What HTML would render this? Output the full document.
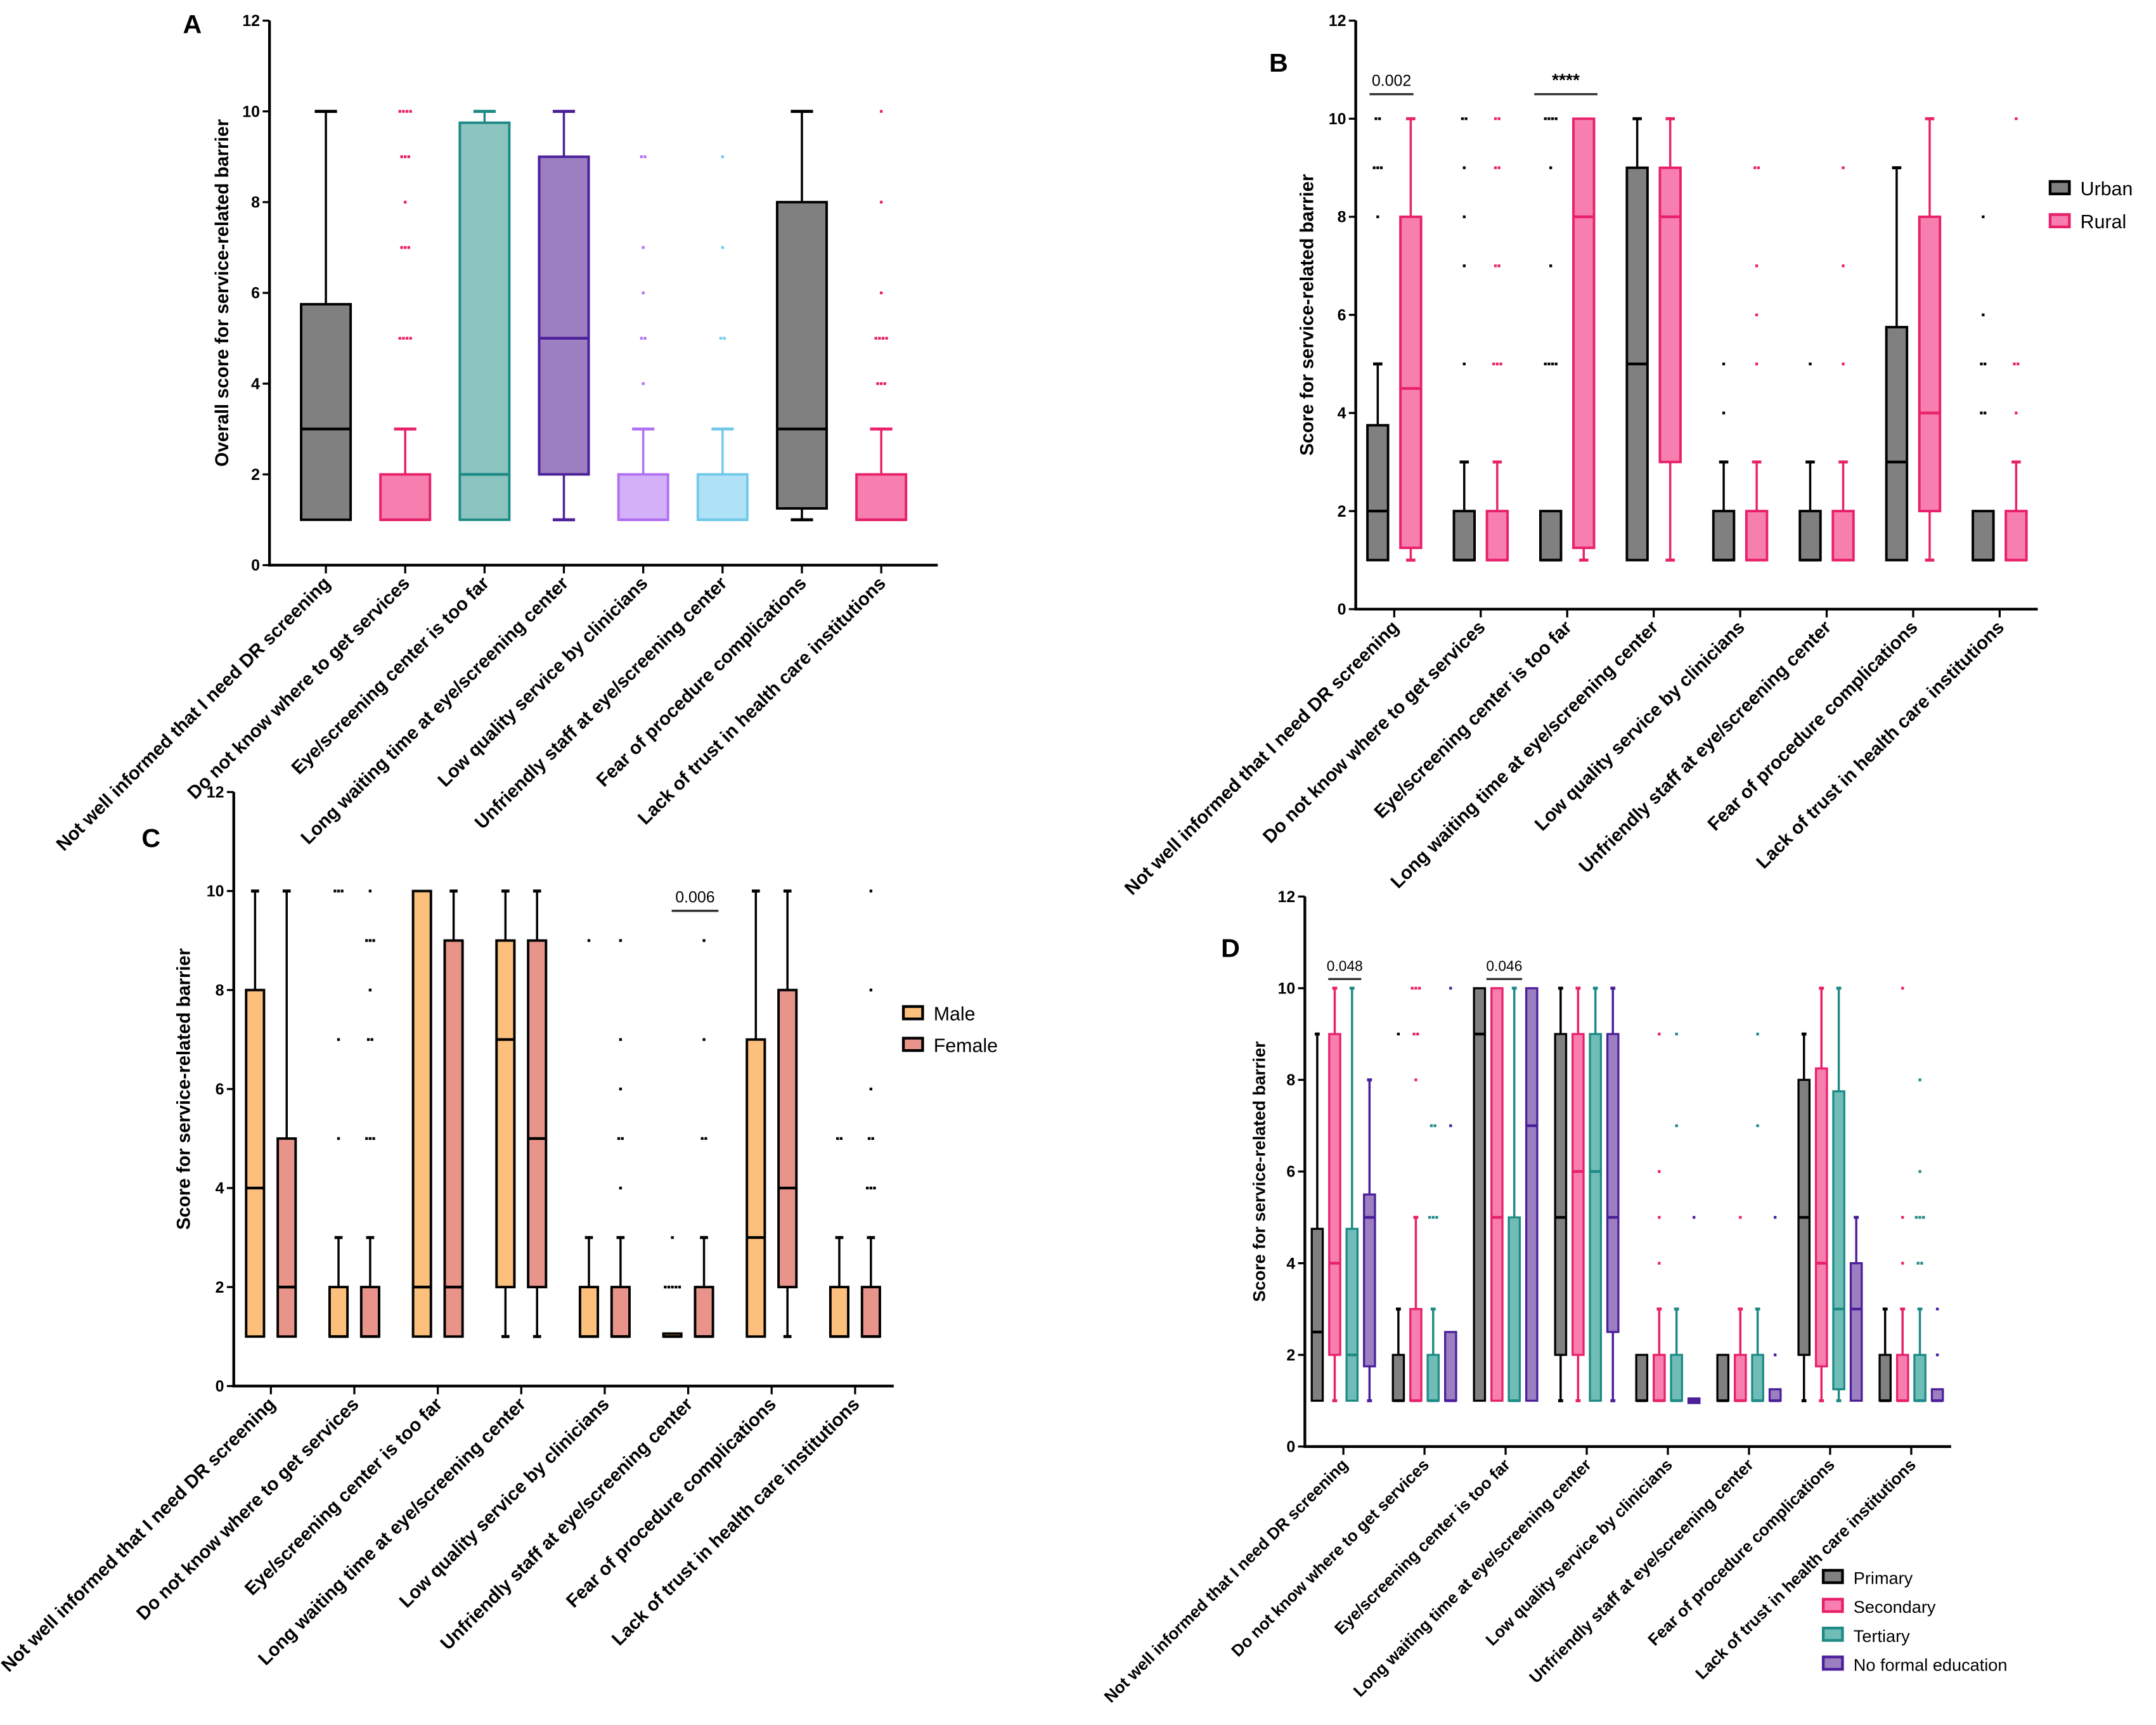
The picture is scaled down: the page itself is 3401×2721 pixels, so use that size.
<!DOCTYPE html>
<html><head><meta charset="utf-8"><style>
html,body{margin:0;padding:0;background:#fff}
svg{display:block}
text{font-family:"Liberation Sans",Arial,sans-serif}
</style></head><body>
<svg id="fig" xmlns="http://www.w3.org/2000/svg" width="3401" height="2721" viewBox="0 0 1568 1254.5">
<rect width="1568" height="1254.5" fill="#fff"/>
</svg>
<script>
const categories = ["Not well informed that I need DR screening","Do not know where to get services","Eye/screening center is too far","Long waiting time at eye/screening center","Low quality service by clinicians","Unfriendly staff at eye/screening center","Fear of procedure complications","Lack of trust in health care institutions"];
const yTicks = [0,2,4,6,8,10,12];
// Panel A: [min,q1,median,q3,max]
const aStats = [[1,1,3,5.75,10],[1,1,1,2,3],[1,1,2,9.75,10],[1,2,5,9,10],[1,1,1,2,3],[1,1,1,2,3],[1,1.25,3,8,10],[1,1,1,2,3]];
const aOut = [[],[10,10,10,10,9,9,9,8,7,7,7,5,5,5,5],[],[],[9,9,7,6,5,5,4],[9,7,5,5],[],[10,8,6,5,5,5,5,4,4,4]];
// Panel B
const bUrban = [[1,1,2,3.75,5],[1,1,1,2,3],[1,1,1,2,2],[1,1,5,9,10],[1,1,1,2,3],[1,1,1,2,3],[1,1,3,5.75,9],[1,1,1,2,2]];
const bUrbanOut = [[10,10,9,9,9,8],[10,10,9,8,7,5],[10,10,10,10,9,7,5,5,5,5],[],[5,4],[5],[],[8,6,5,5,4,4]];
const bRural = [[1,1.25,4.5,8,10],[1,1,1,2,3],[1,1.25,8,10,10],[1,3,8,9,10],[1,1,1,2,3],[1,1,1,2,3],[1,2,4,8,10],[1,1,1,2,3]];
const bRuralOut = [[],[10,10,9,9,7,7,5,5,5],[],[],[9,9,7,6,5],[9,7,5],[],[10,5,5,4]];
// Panel C
const cMale = [[1,1,4,8,10],[1,1,1,2,3],[1,1,2,10,10],[1,2,7,9,10],[1,1,1,2,3],[1,1,1,1.06,1.06],[1,1,3,7,10],[1,1,1,2,3]];
const cMaleOut = [[],[10,10,10,7,5],[],[],[9],[3,2,2,2,2,2],[],[5,5]];
const cFemale = [[1,1,2,5,10],[1,1,1,2,3],[1,1,2,9,10],[1,2,5,9,10],[1,1,1,2,3],[1,1,1,2,3],[1,2,4,8,10],[1,1,1,2,3]];
const cFemaleOut = [[],[10,9,9,9,8,7,7,5,5,5],[],[],[9,7,6,5,5,4],[9,7,5,5],[],[10,8,6,5,5,4,4,4]];
// Panel D
const dPrimary = [[1,1,2.5,4.75,9],[1,1,1,2,3],[1,1,9,10,10],[1,2,5,9,10],[1,1,1,2,2],[1,1,1,2,2],[1,2,5,8,9],[1,1,1,2,3]];
const dPrimaryOut = [[],[9],[],[],[],[],[],[]];
const dSecondary = [[1,2,4,9,10],[1,1,1,3,5],[1,1,5,10,10],[1,2,6,9,10],[1,1,1,2,3],[1,1,1,2,3],[1,1.75,4,8.25,10],[1,1,1,2,3]];
const dSecondaryOut = [[],[10,10,10,9,9,8],[],[],[9,6,5,4],[5],[],[10,5,4]];
const dTertiary = [[1,1,2,4.75,10],[1,1,1,2,3],[1,1,1,5,10],[1,1,6,9,10],[1,1,1,2,3],[1,1,1,2,3],[1,1.25,3,7.75,10],[1,1,1,2,3]];
const dTertiaryOut = [[],[7,7,5,5,5],[],[],[9,7],[9,7],[],[8,6,5,5,5,4,4]];
const dNone = [[1,1.75,5,5.5,8],[1,1,1,2.5,2.5],[1,1,7,10,10],[1,2.5,5,9,10],[0.95,0.95,1,1.05,1.05],[1,1,1,1.25,1.25],[1,1,3,4,5],[1,1,1,1.25,1.25]];
const dNoneOut = [[],[10,7],[],[],[5],[5,2],[],[3,2]];

const NS = "http://www.w3.org/2000/svg";
const svg = document.getElementById("fig");
function el(tag, attrs, parent, text){
  const e = document.createElementNS(NS, tag);
  for (const k in attrs) e.setAttribute(k, attrs[k]);
  if (text !== undefined) e.textContent = text;
  (parent || svg).appendChild(e);
  return e;
}

function panel(cfg){
  const g = el("g", {});
  
  
  const y = v => cfg.y0 - (cfg.y0 - cfg.y12) * v / 12;
  const cx = i => cfg.c0 + i * cfg.step;
  const ya = el("line", {x1:cfg.ax, y1:y(12), x2:cfg.ax, y2:y(0)+1, stroke:"#000","stroke-width":2}, g);
  
  
  const xa = el("line", {x1:cfg.ax-1, y1:y(0), x2:cfg.axEnd, y2:y(0), stroke:"#000","stroke-width":2}, g);
  
  
  yTicks.forEach(t => {
    el("line", {x1:cfg.ax-5, y1:y(t), x2:cfg.ax, y2:y(t), stroke:"#000","stroke-width":1.5}, g);
    const tl = el("text", {x:cfg.ax-7, y:y(t)+4, "text-anchor":"end","font-size":11.5,"font-weight":"bold"}, g, String(t));
    
    
  });
  categories.forEach((c, i) => {
    const x = cx(i);
    el("line", {x1:x, y1:y(0), x2:x, y2:y(0)+6, stroke:"#000","stroke-width":1.5}, g);
    const lx = x + 4, ly = y(0) + 14;
    const t = el("text", {x:lx, y:ly, "text-anchor":"end","font-size":cfg.fs,"font-weight":"bold", transform:`rotate(-45 ${lx} ${ly})`}, g, c);
    
    
  });
  const yt = el("text", {x:cfg.titleX, y:(y(0)+y(12))/2, "text-anchor":"middle","font-size":cfg.tfs,"font-weight":"bold", transform:`rotate(-90 ${cfg.titleX} ${(y(0)+y(12))/2})`}, g, cfg.ytitle);
  
  
  const pl = el("text", {x:cfg.label[0], y:cfg.label[1], "font-size":19,"font-weight":"bold"}, g, cfg.letter);
  
  
  cfg.series.forEach((s, si) => {
    s.stats.forEach((st, i) => {
      const sty = s.styles ? s.styles[i] : s;
      const x = cx(i) + cfg.offsets[si];
      const bw = cfg.bw, cap = bw * 0.45;
      const [mn, q1, md, q3, mx] = st;
      const bg = el("g", {}, g);
      
      
      if (mx > q3) {
        el("line", {x1:x, y1:y(q3), x2:x, y2:y(mx), stroke:sty.stroke,"stroke-width":1.6}, bg);
        el("line", {x1:x-cap/2, y1:y(mx), x2:x+cap/2, y2:y(mx), stroke:sty.stroke,"stroke-width":2.2}, bg);
      }
      if (mn < q1) {
        el("line", {x1:x, y1:y(q1), x2:x, y2:y(mn), stroke:sty.stroke,"stroke-width":1.6}, bg);
        el("line", {x1:x-cap/2, y1:y(mn), x2:x+cap/2, y2:y(mn), stroke:sty.stroke,"stroke-width":2.2}, bg);
      }
      el("rect", {x:x-bw/2, y:y(q3), width:bw, height:Math.max(y(q1)-y(q3),1), fill:sty.fill, stroke:sty.stroke,"stroke-width":cfg.sw}, bg);
      el("line", {x1:x-bw/2, y1:y(md), x2:x+bw/2, y2:y(md), stroke:sty.stroke,"stroke-width":2}, bg);
      const outs = s.out[i];
      const counts = {};
      outs.forEach(v => counts[v] = (counts[v]||0)+1);
      Object.keys(counts).forEach(k => {
        const n = counts[k];
        for (let j = 0; j < n; j++) {
          const d = el("rect", {x:x + (j-(n-1)/2)*2.6 - 1, y:y(+k)-1, width:2, height:2, fill:sty.stroke}, bg);
          
          
        }
      });
    });
  });
  (cfg.sig||[]).forEach(sg => {
    const sgG = el("g", {}, g);
    
    
    const x1 = cx(sg.i) + sg.a, x2 = cx(sg.i) + sg.b;
    el("line", {x1, y1:y(sg.v), x2, y2:y(sg.v), stroke:"#333","stroke-width":1.6}, sgG);
    el("text", {x:(x1+x2)/2, y:y(sg.v)-6, "text-anchor":"middle","font-size":sg.fs||11.5,"font-weight":sg.bold?"bold":"normal"}, sgG, sg.t);
  });
  (cfg.legend||[]).forEach((lg, k) => {
    const lG = el("g", {}, g);
    
    
    const ly = cfg.legendY + k * cfg.legendStep;
    el("rect", {x:cfg.legendX, y:ly-5, width:14, height:9, fill:lg.fill, stroke:lg.stroke,"stroke-width":2}, lG);
    el("text", {x:cfg.legendX+22, y:ly+5, "font-size":cfg.lfs}, lG, lg.t);
  });
}

const gray = {fill:"#808080", stroke:"#000"};
const pink = {fill:"#f77fb0", stroke:"#e8206a"};
const teal = {fill:"#8cc4c0", stroke:"#1e8a85"};
const purp = {fill:"#9b7fc0", stroke:"#4b1f9a"};
const lilac = {fill:"#d4b0f8", stroke:"#b070f0"};
const lblue = {fill:"#b0e2f7", stroke:"#70c8ea"};

panel({name:"panel-a", letter:"A", label:[133,24], ax:196, axEnd:682, y0:411, y12:15, c0:237, step:57.7, offsets:[0], bw:36, sw:1.8, fs:13.5, tfs:13.5, titleX:166,
  ytitle:"Overall score for service-related barrier",
  series:[{key:"overall", stats:aStats, out:aOut, styles:[gray,pink,teal,purp,lilac,lblue,gray,pink]}]});

panel({name:"panel-b", letter:"B", label:[923,52], ax:986, axEnd:1482, y0:443, y12:15, c0:1014, step:62.9, offsets:[-12,12], bw:15, sw:1.8, fs:13.5, tfs:13.5, titleX:955,
  ytitle:"Score for service-related barrier",
  series:[{key:"urban", stats:bUrban, out:bUrbanOut, fill:gray.fill, stroke:"#000"},{key:"rural", stats:bRural, out:bRuralOut, fill:pink.fill, stroke:pink.stroke}],
  sig:[{i:0,a:-18,b:14,v:10.5,t:"0.002"},{i:2,a:-24,b:22,v:10.5,t:"****",bold:true,fs:13}],
  legend:[{t:"Urban",fill:gray.fill,stroke:"#000"},{t:"Rural",fill:pink.fill,stroke:pink.stroke}], legendX:1491, legendY:137, legendStep:24, lfs:14});

panel({name:"panel-c", letter:"C", label:[103,616], ax:170, axEnd:650, y0:1008, y12:576, c0:197, step:60.7, offsets:[-11.5,11.5], bw:13, sw:1.8, fs:13.5, tfs:13.5, titleX:138,
  ytitle:"Score for service-related barrier",
  series:[{key:"male", stats:cMale, out:cMaleOut, fill:"#fcc07c", stroke:"#000"},{key:"female", stats:cFemale, out:cFemaleOut, fill:"#e8948a", stroke:"#000"}],
  sig:[{i:5,a:-12,b:22,v:9.6,t:"0.006"}],
  legend:[{t:"Male",fill:"#fcc07c",stroke:"#000"},{t:"Female",fill:"#e8948a",stroke:"#000"}], legendX:657, legendY:737, legendStep:23, lfs:14});

panel({name:"panel-d", letter:"D", label:[888,696], ax:949, axEnd:1419, y0:1052, y12:652, c0:977, step:59, offsets:[-19,-6.3,6.3,19], bw:8, sw:1.5, fs:12, tfs:12.5, titleX:920,
  ytitle:"Score for service-related barrier",
  series:[{key:"primary", stats:dPrimary, out:dPrimaryOut, fill:"#808080", stroke:"#000"},{key:"secondary", stats:dSecondary, out:dSecondaryOut, fill:pink.fill, stroke:pink.stroke},{key:"tertiary", stats:dTertiary, out:dTertiaryOut, fill:"#70bdb8", stroke:teal.stroke},{key:"no-formal", stats:dNone, out:dNoneOut, fill:purp.fill, stroke:purp.stroke}],
  sig:[{i:0,a:-11,b:13,v:10.2,t:"0.048",fs:10.5},{i:2,a:-14,b:12,v:10.2,t:"0.046",fs:10.5}],
  legend:[{t:"Primary",fill:"#808080",stroke:"#000"},{t:"Secondary",fill:pink.fill,stroke:pink.stroke},{t:"Tertiary",fill:"#70bdb8",stroke:teal.stroke},{t:"No formal education",fill:purp.fill,stroke:purp.stroke}], legendX:1326, legendY:1147, legendStep:21, lfs:12.5});
</script>
</body></html>
